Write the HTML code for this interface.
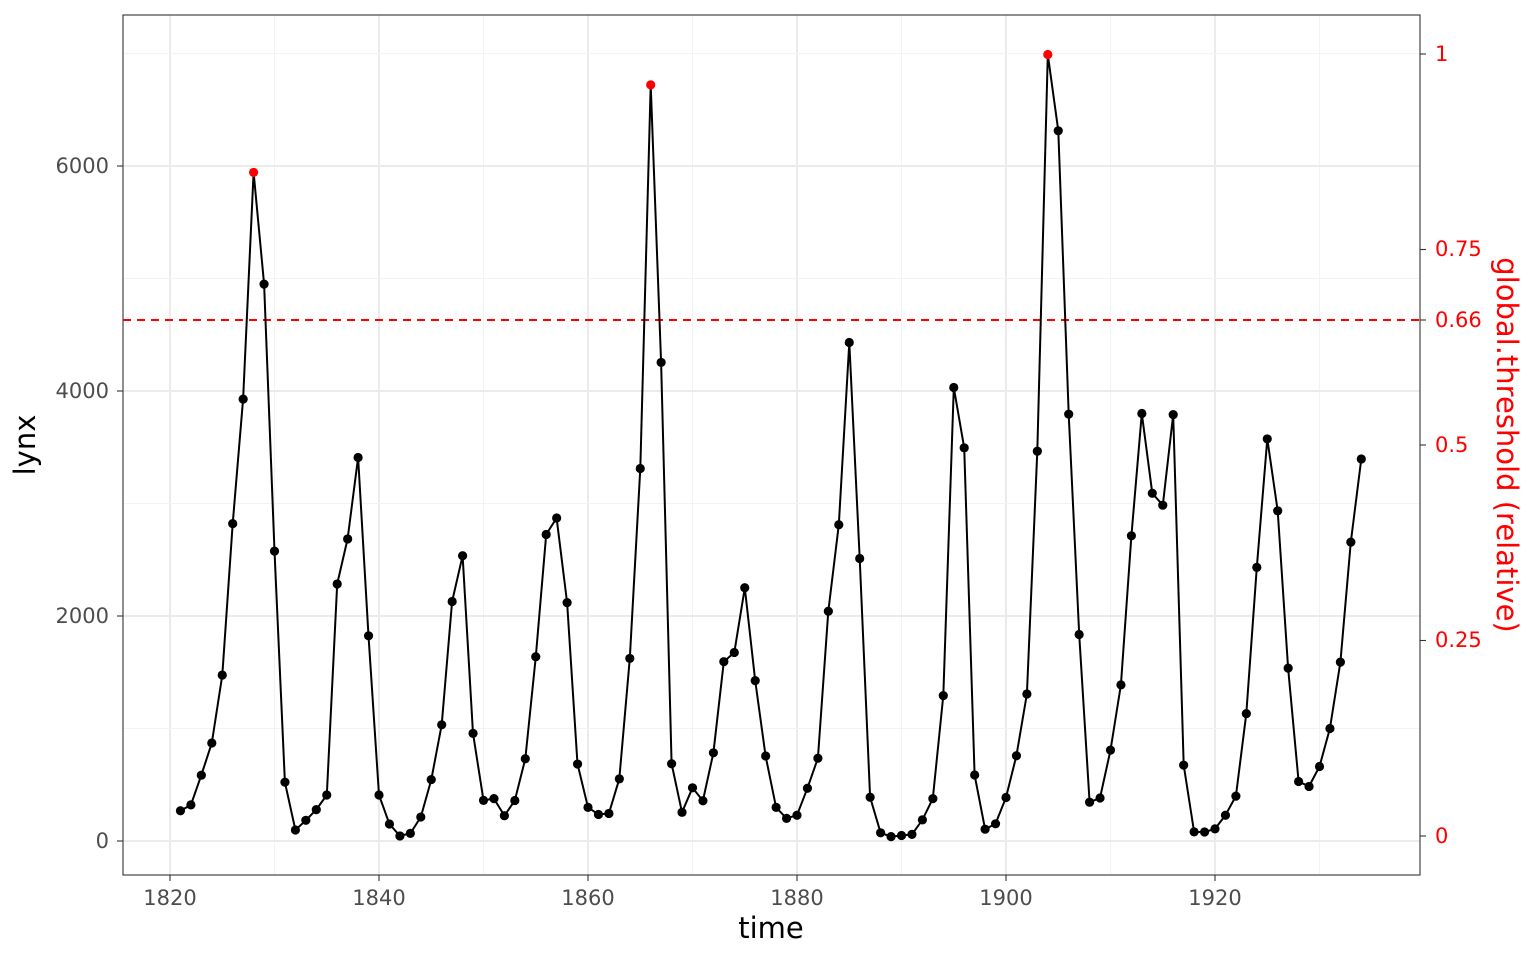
<!DOCTYPE html>
<html><head><meta charset="utf-8"><style>
body{margin:0;background:#fff;}
text{font-family:"DejaVu Sans","Liberation Sans",sans-serif;}
</style></head><body>
<svg id="s" width="1536" height="960" xmlns="http://www.w3.org/2000/svg">
<rect x="0" y="0" width="1536" height="960" fill="#fff"/>
<g id="grid"></g>
<rect x="123" y="15" width="1297" height="860" fill="none" stroke="#333" stroke-width="1.1"/>
<line x1="123" y1="320" x2="1420" y2="320" stroke="#f00" stroke-width="2" stroke-dasharray="8,6"/>
<polyline id="ln" fill="none" stroke="#000" stroke-width="2"/>
<g id="pts"></g>
<g font-size="21" fill="#4d4d4d" text-anchor="end">
<text x="109" y="848">0</text>
<text x="109" y="623">2000</text>
<text x="109" y="398">4000</text>
<text x="109" y="173">6000</text>
</g>
<g stroke="#333" stroke-width="1.1">
<line x1="117" y1="841" x2="123" y2="841"/><line x1="117" y1="616" x2="123" y2="616"/>
<line x1="117" y1="391" x2="123" y2="391"/><line x1="117" y1="166" x2="123" y2="166"/>
<line x1="170" y1="875" x2="170" y2="881"/><line x1="379" y1="875" x2="379" y2="881"/>
<line x1="588" y1="875" x2="588" y2="881"/><line x1="797" y1="875" x2="797" y2="881"/>
<line x1="1006" y1="875" x2="1006" y2="881"/><line x1="1215" y1="875" x2="1215" y2="881"/>
<line x1="1420" y1="836" x2="1426" y2="836"/><line x1="1420" y1="640.5" x2="1426" y2="640.5"/>
<line x1="1420" y1="445" x2="1426" y2="445"/><line x1="1420" y1="320" x2="1426" y2="320"/>
<line x1="1420" y1="249.5" x2="1426" y2="249.5"/><line x1="1420" y1="54" x2="1426" y2="54"/>
</g>
<g font-size="21" fill="#4d4d4d" text-anchor="middle">
<text x="170" y="905">1820</text><text x="379" y="905">1840</text><text x="588" y="905">1860</text>
<text x="797" y="905">1880</text><text x="1006" y="905">1900</text><text x="1215" y="905">1920</text>
</g>
<g font-size="21" fill="#f00">
<text x="1435" y="843">0</text><text x="1435" y="647">0.25</text><text x="1435" y="452">0.5</text>
<text x="1435" y="327">0.66</text><text x="1435" y="256">0.75</text><text x="1435" y="61">1</text>
</g>
<text x="771" y="938" font-size="29" text-anchor="middle" fill="#000">time</text>
<text x="0" y="0" font-size="29" text-anchor="middle" fill="#000" transform="translate(35,445) rotate(-90)">lynx</text>
<text x="0" y="0" font-size="29" text-anchor="middle" fill="#f00" transform="translate(1497,445) rotate(90)">global.threshold (relative)</text>
</svg>
<script>
var d=[269,321,585,871,1475,2821,3928,5943,4950,2577,523,98,184,279,409,2285,2685,3409,1824,409,151,45,68,213,546,1033,2129,2536,957,361,377,225,360,731,1638,2725,2871,2119,684,299,236,245,552,1623,3311,6721,4254,687,255,473,358,784,1594,1676,2251,1426,756,299,201,229,469,736,2042,2811,4431,2511,389,73,39,49,59,188,377,1292,4031,3495,587,105,153,387,758,1307,3465,6991,6313,3794,1836,345,382,808,1388,2713,3800,3091,2985,3790,674,81,80,108,229,399,1132,2432,3574,2935,1537,529,485,662,1000,1590,2657,3396];
var ns="http://www.w3.org/2000/svg";
function X(t){return 170+(t-1820)*10.45;}
function Y(v){return 841-v*0.1125;}
var g=document.getElementById('grid');
function L(x1,y1,x2,y2,c,w){var l=document.createElementNS(ns,'line');l.setAttribute('x1',x1);l.setAttribute('y1',y1);l.setAttribute('x2',x2);l.setAttribute('y2',y2);l.setAttribute('stroke',c);l.setAttribute('stroke-width',w);g.appendChild(l);}
for(var t=1810;t<=1940;t+=10){var x=X(t);if(x>123&&x<1420)L(x,15,x,875,t%20==0?'#ebebeb':'#f3f3f3',t%20==0?2:1);}
for(var v=-1000;v<=8000;v+=1000){var y=Y(v);if(y>15&&y<875)L(123,y,1420,y,v%2000==0?'#ebebeb':'#f3f3f3',v%2000==0?2:1);}
var p=[],pts=document.getElementById('pts'),th=0.66*6991;
for(var i=0;i<d.length;i++){var x=X(1821+i),y=Y(d[i]);p.push(x.toFixed(1)+','+y.toFixed(1));
var pk=d[i]>th&&(i==0||d[i]>d[i-1])&&(i==d.length-1||d[i]>d[i+1]);
var c=document.createElementNS(ns,'circle');c.setAttribute('cx',x);c.setAttribute('cy',y);c.setAttribute('r',4.6);c.setAttribute('fill',pk?'#f00':'#000');pts.appendChild(c);}
document.getElementById('ln').setAttribute('points',p.join(' '));
</script>
</body></html>
